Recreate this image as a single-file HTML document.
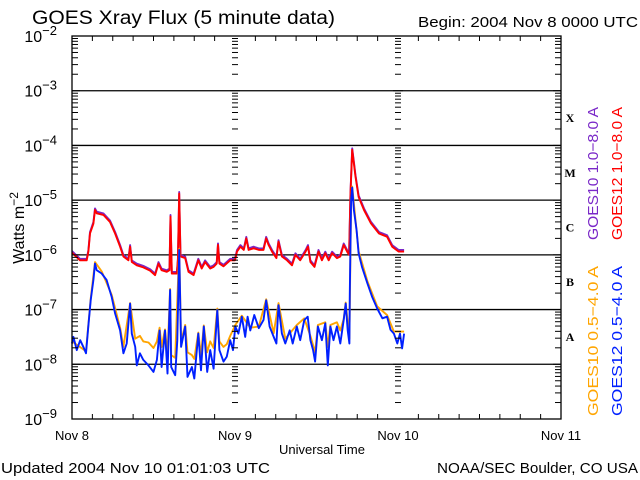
<!DOCTYPE html>
<html><head><meta charset="utf-8"><style>
html,body{margin:0;padding:0;background:#fff;}
svg{display:block;font-family:"Liberation Sans",sans-serif;}
</style></head><body>
<svg id="chart" width="640" height="480" viewBox="0 0 640 480" xmlns="http://www.w3.org/2000/svg">
<rect width="640" height="480" fill="#fff"/>
<text x="32" y="24" font-size="19" textLength="303" lengthAdjust="spacingAndGlyphs">GOES Xray Flux (5 minute data)</text>
<text x="418" y="27" font-size="15" textLength="220" lengthAdjust="spacingAndGlyphs">Begin:  2004 Nov 8 0000 UTC</text>
<text transform="translate(24,228) rotate(-90)" text-anchor="middle" font-size="16">Watts m<tspan dy="-6" font-size="12">−2</tspan></text>
<text x="322" y="454" text-anchor="middle" font-size="13">Universal Time</text>
<text x="1" y="473" font-size="15" textLength="269" lengthAdjust="spacingAndGlyphs">Updated 2004 Nov 10 01:01:03 UTC</text>
<text x="437" y="473" font-size="15" textLength="201" lengthAdjust="spacingAndGlyphs">NOAA/SEC Boulder, CO USA</text>
<g id="grid"></g><g id="series"></g><g id="axes"></g><g id="labels"></g>
<text transform="translate(598,240) rotate(-90)" font-size="15" textLength="133" lengthAdjust="spacingAndGlyphs" fill="#7a28c8">GOES10 1.0−8.0 A</text>
<text transform="translate(622,240) rotate(-90)" font-size="15" textLength="133" lengthAdjust="spacingAndGlyphs" fill="#ff0000">GOES12 1.0−8.0 A</text>
<text transform="translate(598,416) rotate(-90)" font-size="15" textLength="150" lengthAdjust="spacingAndGlyphs" fill="#ffa500">GOES10 0.5−4.0 A</text>
<text transform="translate(622,416) rotate(-90)" font-size="15" textLength="150" lengthAdjust="spacingAndGlyphs" fill="#0020ff">GOES12 0.5−4.0 A</text>
</svg>
<script>
const xDays = ["Nov 8","Nov 9","Nov 10","Nov 11"];
const yDecades = [-2,-3,-4,-5,-6,-7,-8,-9];
const flareClasses = ["X","M","C","B","A"];
const longTimes = [0,1.18,2.16,2.41,2.65,3.15,3.39,3.64,4.62,5.6,6.34,7.08,7.57,8.31,8.55,8.8,9.54,10.5,11.5,12.24,12.73,13.2,13.96,14.36,14.5,14.7,15.44,15.6,15.78,15.98,16.67,17.16,17.9,18.6,19.1,19.6,20.35,20.85,21.3,21.5,21.7,22.3,23.3,24.0,24.3,24.8,25.3,25.66,26.0,26.74,27.5,28.2,28.6,28.95,29.45,30.1,30.4,30.9,31.66,32.4,32.9,33.6,34.4,34.75,35.1,35.7,36.3,36.8,37.3,37.8,38.3,39.0,39.5,40.0,40.5,40.8,41.0,41.25,41.5,41.74,42.2,43.0,44.0,45.2,46.4,47.15,48.1,48.9];
const goes12Long = [-5.96,-6.10,-6.10,-5.94,-5.61,-5.43,-5.18,-5.24,-5.27,-5.40,-5.61,-5.85,-6.03,-6.10,-5.85,-6.13,-6.19,-6.23,-6.29,-6.37,-6.16,-6.28,-6.31,-6.28,-5.30,-6.34,-6.34,-6.10,-4.88,-6.03,-6.06,-6.31,-6.37,-6.10,-6.25,-6.13,-6.25,-6.22,-6.16,-5.82,-6.16,-6.21,-6.10,-6.10,-5.94,-5.85,-5.91,-5.70,-5.91,-5.88,-5.91,-5.91,-5.70,-5.82,-5.94,-6.06,-5.76,-6.03,-6.10,-6.19,-6.00,-6.10,-5.94,-5.85,-6.13,-6.22,-5.94,-6.10,-5.97,-6.10,-5.97,-6.06,-6.03,-5.82,-5.94,-6.00,-4.88,-4.08,-4.33,-4.57,-4.94,-5.18,-5.42,-5.61,-5.67,-5.85,-5.94,-5.94];
const goes10Long = [-5.95,-6.09,-6.09,-5.93,-5.60,-5.42,-5.17,-5.23,-5.26,-5.39,-5.60,-5.84,-6.02,-6.09,-5.84,-6.12,-6.18,-6.22,-6.28,-6.36,-6.15,-6.27,-6.30,-6.27,-5.29,-6.33,-6.33,-6.09,-4.87,-6.02,-6.05,-6.30,-6.36,-6.09,-6.24,-6.12,-6.24,-6.21,-6.15,-5.81,-6.15,-6.20,-6.09,-6.09,-5.93,-5.84,-5.90,-5.69,-5.90,-5.87,-5.90,-5.90,-5.69,-5.81,-5.93,-6.05,-5.75,-6.02,-6.09,-6.18,-5.99,-6.09,-5.93,-5.84,-6.12,-6.21,-5.93,-6.09,-5.96,-6.09,-5.96,-6.05,-6.02,-5.81,-5.93,-5.99,-4.87,-4.07,-4.32,-4.56,-4.93,-5.17,-5.41,-5.60,-5.66,-5.84,-5.93,-5.93];
const shortTimes = [0,0.2,0.7,1.2,1.67,2.06,2.4,2.75,3.15,3.39,3.64,4.37,5.1,5.85,6.34,7.08,7.57,8.06,8.55,8.8,9.3,9.54,10.0,10.5,11.26,12.0,12.5,12.9,13.2,13.7,14.06,14.45,14.6,15.2,15.5,15.78,16.07,16.67,17.0,17.65,18.0,18.6,19.0,19.4,19.9,20.35,20.85,21.4,21.7,22.3,22.8,23.3,23.7,24.04,24.5,25.0,25.5,25.86,26.25,26.84,27.5,28.2,28.6,29.1,29.7,30.1,30.4,30.9,31.4,32.05,32.5,33.1,33.6,34.2,34.7,35.1,35.5,35.8,36.2,36.8,37.3,37.66,38.05,38.5,39.0,39.5,40.0,40.3,40.6,40.85,40.9,41.1,41.25,41.5,41.9,42.2,42.7,43.5,44.2,44.94,45.7,46.4,46.9,47.4,47.9,48.3,48.6,48.9];
const goes12Short = [-7.62,-7.50,-7.74,-7.56,-7.68,-7.80,-7.31,-6.83,-6.46,-6.16,-6.28,-6.34,-6.46,-6.77,-7.07,-7.38,-7.80,-7.62,-6.89,-7.44,-7.68,-8.02,-7.80,-7.92,-8.02,-8.14,-7.92,-7.38,-8.05,-7.38,-8.17,-6.64,-8.05,-8.20,-7.56,-5.91,-7.68,-7.31,-8.23,-8.05,-8.26,-7.44,-8.11,-7.31,-8.14,-7.74,-8.08,-7.01,-7.74,-7.95,-7.86,-7.56,-7.74,-7.31,-7.44,-7.13,-7.50,-7.13,-7.38,-7.10,-7.34,-7.19,-6.83,-7.31,-7.50,-7.62,-6.92,-7.44,-7.62,-7.38,-7.62,-7.31,-7.56,-7.19,-7.13,-7.56,-7.74,-7.95,-7.31,-7.56,-7.25,-8.02,-7.31,-7.56,-7.31,-7.62,-7.19,-6.89,-7.38,-7.62,-6.70,-5.00,-4.77,-5.18,-5.55,-5.97,-6.22,-6.52,-6.77,-6.98,-7.16,-7.13,-7.37,-7.44,-7.62,-7.44,-7.71,-7.44];
const orangeTimes = [0,2.06,2.75,3.39,4.37,5.85,7.08,7.57,8.55,9.3,10,10.5,11.26,12,12.5,12.9,13.2,13.7,14.06,14.45,14.6,15.2,15.78,16.07,16.67,17,17.65,18,18.6,19,19.4,19.9,20.35,20.85,21.4,21.7,22.3,22.8,23.3,24.04,25,26.25,27.5,28.6,29.7,30.4,31.4,33.1,34.2,35.1,35.8,36.2,37.3,37.66,38.05,39.0,39.5,40.0,40.3,40.85,41.1,41.25,42.2,43.5,44.94,46.4,47.4,48.3,48.9];
const goes10Short = [-7.6,-7.78,-6.82,-6.15,-6.32,-6.75,-7.35,-7.7,-6.9,-7.55,-7.5,-7.6,-7.62,-7.72,-7.6,-7.35,-7.7,-7.38,-7.85,-6.64,-7.85,-7.9,-5.91,-7.6,-7.3,-7.8,-7.85,-7.92,-7.44,-7.85,-7.31,-7.8,-7.6,-7.72,-7.0,-7.6,-7.7,-7.65,-7.5,-7.3,-7.13,-7.35,-7.33,-6.83,-7.45,-6.9,-7.55,-7.3,-7.18,-7.5,-7.8,-7.3,-7.25,-7.7,-7.3,-7.25,-7.4,-7.19,-6.89,-7.55,-5.0,-4.77,-5.95,-6.5,-6.96,-7.12,-7.42,-7.42,-7.42];

const NS="http://www.w3.org/2000/svg";
const L=72,R=561,T=36,B=419;
const xScale=h=>L+(h/72)*(R-L);
const yScale=lg=>T+(-2-lg)*(B-T)/7;
function mk(tag,attrs,parent){const e=document.createElementNS(NS,tag);for(const k in attrs)e.setAttribute(k,attrs[k]);parent.appendChild(e);return e;}
const grid=document.getElementById('grid'),axes=document.getElementById('axes'),labels=document.getElementById('labels'),series=document.getElementById('series');
yDecades.forEach(d=>{if(d<-2&&d>-9){const g=mk('line',{x1:L,x2:R,y1:yScale(d),y2:yScale(d),stroke:'#000','stroke-width':1.3},grid);

}});
const fr=mk('rect',{x:L,y:T,width:R-L,height:B-T,fill:'none',stroke:'#000','stroke-width':1.3},axes);


const tickXs=[[L,1,6],[xScale(24),-1,3],[xScale(24),1,3],[xScale(48),-1,3],[xScale(48),1,3],[R,-1,6]];
for(let d=-9;d<-2;d++){for(let m=1;m<=9;m++){const y=yScale(d+Math.log10(m));
tickXs.forEach(([x,s,len])=>{const ln=(m===1)?len+2:len;mk('line',{x1:x,x2:x+s*ln,y1:y,y2:y,stroke:'#000','stroke-width':1},axes);});}}
const tt=yScale(-2);tickXs.forEach(([x,s,len])=>mk('line',{x1:x,x2:x+s*(len+2),y1:tt,y2:tt,stroke:'#000','stroke-width':1},axes));
for(let h=0;h<=72;h+=3){const x=xScale(h);const len=(h%24===0)?0:5;
mk('line',{x1:x,x2:x,y1:B,y2:B-len,stroke:'#000','stroke-width':1},axes);
mk('line',{x1:x,x2:x,y1:T,y2:T+len,stroke:'#000','stroke-width':1},axes);}
yDecades.forEach(d=>{const t=mk('text',{x:57,y:yScale(d)+6,'text-anchor':'end','font-size':16},labels);


t.textContent='10';const s=mk('tspan',{dy:-7,'font-size':13},t);s.textContent='−'+(-d);});
xDays.forEach((lab,i)=>{const t=mk('text',{x:xScale(i*24),y:440,'text-anchor':'middle','font-size':13},labels);


t.textContent=lab;});
flareClasses.forEach((c,i)=>{const t=mk('text',{x:570,y:yScale(-3.5-i)+4,'text-anchor':'middle','font-size':12,'font-weight':'bold','font-family':'Liberation Serif, serif'},labels);


t.textContent=c;});
function line(times,vals,color,name,dy){const pts=times.map((h,i)=>xScale(h).toFixed(1)+','+(yScale(vals[i])+dy).toFixed(1)).join(' ');
const p=mk('polyline',{points:pts,fill:'none',stroke:color,'stroke-width':1.9,'stroke-linejoin':'round'},series);

}
line(longTimes,goes10Long,'#7a28c8','goes10-long-line',-1);
line(longTimes,goes12Long,'#ff0000','goes12-long-line',0);
line(orangeTimes,goes10Short,'#ffa500','goes10-short-line',-1);
line(shortTimes,goes12Short,'#0020ff','goes12-short-line',0);
</script>
</body></html>
